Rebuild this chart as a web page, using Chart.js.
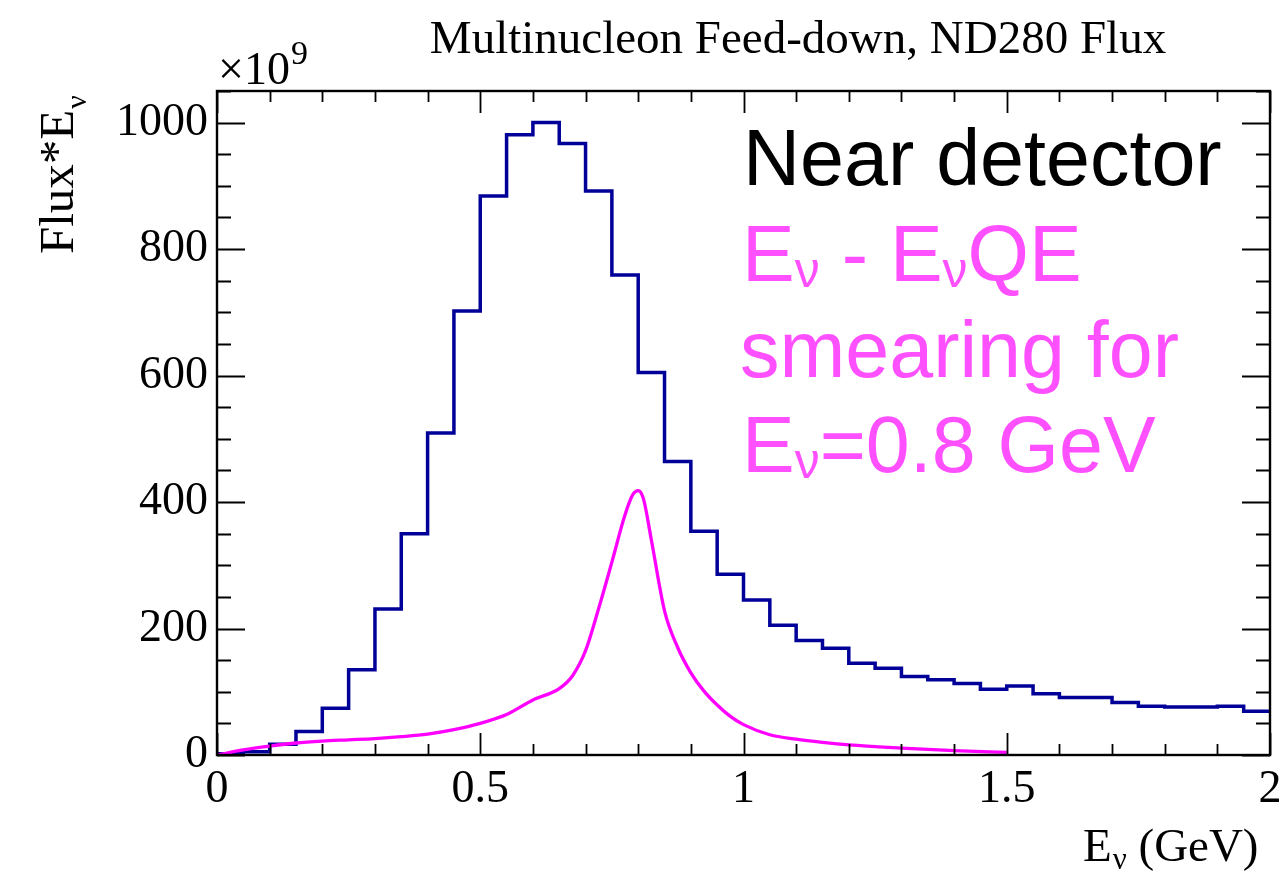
<!DOCTYPE html>
<html>
<head>
<meta charset="utf-8">
<script src="https://cdn.jsdelivr.net/npm/chart.js@4.4.1/dist/chart.umd.min.js"></script>
<style>
html,body{margin:0;padding:0;background:#fff;}
#wrap{width:1284px;height:882px;position:relative;}
canvas{display:block;}
</style>
</head>
<body>
<div id="wrap"><canvas id="c" width="1284" height="882" style="width:1284px;height:882px"></canvas></div>
<script>
// ---- data ----
const fluxBinEdges = [0,0.05,0.1,0.15,0.2,0.25,0.3,0.35,0.4,0.45,0.5,0.55,0.6,0.65,0.7,0.75,0.8,0.85,0.9,0.95,
  1.0,1.05,1.1,1.15,1.2,1.25,1.3,1.35,1.4,1.45,1.5,1.55,1.6,1.65,1.7,1.75,1.8,1.85,1.9,1.95,2.0];
const fluxValues = [2,5,17,37,74,135,231,350,509,702,884,981,1000,967,892,759,605,464,354,286,
  245,205,181,169,145,137,124,119,113,104,109,97,91,91,83,77,76,76,77,69];
const smearX = [0,0.05,0.1,0.15,0.2,0.25,0.3,0.35,0.4,0.45,0.5,0.55,0.6,0.65,0.675,0.7,0.725,0.75,0.775,0.79,0.8,
  0.81,0.825,0.85,0.875,0.9,0.925,0.95,0.975,1.0,1.05,1.1,1.15,1.2,1.3,1.4,1.5];
const smearY = [0,8,14,19,22,24,26,29,33,40,50,64,87,105,125,165,232,305,380,412,418,
  405,340,228,170,130,101,79,61,48,32,25,20,16,11,7,4];
const xTickValues = [0,0.5,1,1.5,2];
const xTickLabels = ['0','0.5','1','1.5','2'];
const yTickValues = [0,200,400,600,800,1000];
const yTickLabels = ['0','200','400','600','800','1000'];

// ---- build datasets ----
const histData = fluxValues.map((v,i)=>({x:fluxBinEdges[i], y:v}));
histData.push({x:fluxBinEdges[fluxBinEdges.length-1], y:fluxValues[fluxValues.length-1]});
const smearData = smearX.map((x,i)=>({x:x, y:smearY[i]}));

const SERIF = '"Liberation Serif", "Times New Roman", serif';
const SANS = '"Liberation Sans", Arial, sans-serif';

const framePlugin = {
  id:'frame',
  afterDraw(chart){
    const ctx = chart.ctx, a = chart.chartArea;
    const xs = chart.scales.x, ys = chart.scales.y;
    ctx.save();
    ctx.strokeStyle = '#000';
    // ticks
    ctx.lineWidth = 1.8;
    ctx.beginPath();
    for (let k=0;k<=20;k++){
      const v = k*0.1;
      const px = Math.round(xs.getPixelForValue(v))+0.5;
      const len = (k%5===0)?22:11;
      ctx.moveTo(px,a.bottom); ctx.lineTo(px,a.bottom-len);
      ctx.moveTo(px,a.top); ctx.lineTo(px,a.top+len);
    }
    for (let k=0;k<=21;k++){
      const v = k*50;
      const py = Math.round(ys.getPixelForValue(v))+0.5;
      const len = (k%4===0)?28:14;
      ctx.moveTo(a.left,py); ctx.lineTo(a.left+len,py);
      ctx.moveTo(a.right,py); ctx.lineTo(a.right-len,py);
    }
    ctx.stroke();
    // frame
    ctx.lineWidth = 2.4;
    ctx.strokeRect(a.left, a.top, a.right-a.left, a.bottom-a.top);

    // title
    ctx.fillStyle = '#000';
    ctx.textBaseline = 'alphabetic';
    ctx.font = '47px ' + SERIF;
    ctx.textAlign = 'center';
    ctx.fillText('Multinucleon Feed-down, ND280 Flux', 798, 53);

    // x10^9
    ctx.textAlign = 'left';
    ctx.font = '46px ' + SERIF;
    ctx.fillText('\u00d710', 218, 84);
    const w10 = ctx.measureText('\u00d710').width;
    ctx.font = '34px ' + SERIF;
    ctx.fillText('9', 218 + w10 + 1, 64);

    // y title rotated
    ctx.save();
    ctx.translate(73, 254);
    ctx.rotate(-Math.PI/2);
    ctx.font = '49px ' + SERIF;
    ctx.textAlign = 'left';
    ctx.fillText('Flux*E', 0, 0);
    const wy = ctx.measureText('Flux*E').width;
    ctx.font = '30px ' + SERIF;
    ctx.fillText('\u03bd', wy + 1, 13);
    ctx.restore();

    // x title
    ctx.font = '47px ' + SERIF;
    ctx.textAlign = 'left';
    let xx = 1083;
    ctx.fillText('E', xx, 861);
    xx += ctx.measureText('E').width;
    ctx.font = '31px ' + SERIF;
    ctx.fillText('\u03bd', xx + 1, 869);
    xx += ctx.measureText('\u03bd').width + 1;
    ctx.font = '47px ' + SERIF;
    ctx.fillText(' (GeV)', xx, 861);

    // annotations
    ctx.font = '79px ' + SANS;
    ctx.fillStyle = '#000';
    ctx.fillText('Near detector', 743, 185);

    const mag = '#ff50ff';
    ctx.fillStyle = mag;
    function richLine(parts, x, y){
      for (const p of parts){
        if (p.sub){
          ctx.font = '50px ' + SANS;
          ctx.fillText(p.t, x, y + 6);
          x += ctx.measureText(p.t).width;
        } else {
          ctx.font = '79px ' + SANS;
          ctx.fillText(p.t, x, y);
          x += ctx.measureText(p.t).width;
        }
      }
    }
    richLine([{t:'E'},{t:'\u03bd',sub:true},{t:' - E'},{t:'\u03bd',sub:true},{t:'QE'}], 742, 281);
    richLine([{t:'smearing for'}], 740, 377);
    richLine([{t:'E'},{t:'\u03bd',sub:true},{t:'=0.8 GeV'}], 742, 472);
    ctx.restore();
  }
};

new Chart(document.getElementById('c'), {
  type:'line',
  data:{
    datasets:[
      {
        label:'E\u03bd - E\u03bdQE smearing',
        data: smearData,
        borderColor:'#ff00ff',
        borderWidth:3.3,
        pointRadius:0,
        fill:false,
        cubicInterpolationMode:'monotone',
        order:1
      },
      {
        label:'Flux*E\u03bd',
        data: histData,
        borderColor:'#000099',
        borderWidth:3.5,
        pointRadius:0,
        fill:false,
        stepped:'before',
        order:2
      }
    ]
  },
  options:{
    responsive:false,
    animation:false,
    devicePixelRatio:1,
    layout:{padding:{top:91,right:14,left:0,bottom:0}},
    plugins:{legend:{display:false}, tooltip:{enabled:false}, title:{display:false}},
    scales:{
      x:{
        type:'linear', min:0, max:2,
        grid:{display:false, drawTicks:false},
        border:{display:false},
        afterBuildTicks(s){ s.ticks = xTickValues.map(v=>({value:v})); },
        afterFit(s){ s.height = 127; s.paddingLeft = 0; s.paddingRight = 0; },
        ticks:{
          autoSkip:false, maxRotation:0, padding:7, color:'#000',
          font:{family:SERIF, size:46},
          callback(v){ const i = xTickValues.indexOf(v); return i>=0 ? xTickLabels[i] : ''; }
        }
      },
      y:{
        type:'linear', min:0, max:1050,
        grid:{display:false, drawTicks:false},
        border:{display:false},
        afterBuildTicks(s){ s.ticks = yTickValues.map(v=>({value:v})); },
        afterFit(s){ s.width = 217; s.paddingTop = 0; s.paddingBottom = 0; },
        ticks:{
          autoSkip:false, padding:9, color:'#000',
          font:{family:SERIF, size:46},
          callback(v){ const i = yTickValues.indexOf(v); return i>=0 ? yTickLabels[i] : ''; }
        }
      }
    }
  },
  plugins:[framePlugin]
});
</script>
</body>
</html>
